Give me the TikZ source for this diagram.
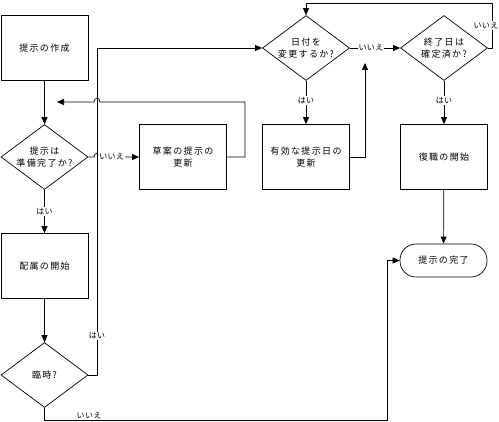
\documentclass[tikz,border=0pt]{standalone}
\usepackage{fontspec}
\newfontfamily\jpfont[LetterSpace=15]{Noto Sans CJK JP}
\newfontfamily\jplabel[LetterSpace=4]{Noto Sans CJK JP}
\usetikzlibrary{shapes.geometric,arrows.meta}

\begin{document}
\begin{tikzpicture}[x=1pt,y=-1pt]
    \tikzstyle{every node}=[font=\jpfont\fontsize{9}{12}\selectfont]
    \tikzstyle{proc}=[rectangle,draw,minimum width=87pt,minimum height=65pt,align=center,line width=0.7pt]
    \tikzstyle{decide}=[diamond,draw,aspect=1.34,minimum width=87pt,minimum height=65pt,inner sep=0pt,align=center,line width=0.7pt]
    \tikzstyle{term}=[rectangle,rounded corners=16pt,draw,minimum width=87pt,minimum height=33pt,line width=0.7pt]
    \tikzstyle{flow}=[-{Triangle[length=7pt,width=6pt]},line width=0.7pt]
    \tikzstyle{ans}=[fill=white,inner sep=1pt,font=\jplabel\fontsize{8}{10}\selectfont]
    \useasboundingbox (0,0) rectangle (499,422);
    \node[proc] (create) at (44.5,48) {提示の作成};
    \node[decide] (ready) at (44.5,157) {提示は\\準備完了か?};
    \node[proc] (draft) at (183,157) {草案の提示の\\更新};
    \node[proc] (assign) at (44.5,266) {配属の開始};
    \node[decide] (temp) at (44.5,375) {臨時?};
    \node[decide] (change) at (306,48) {日付を\\変更するか?};
    \node[proc] (valid) at (306,157) {有効な提示日の\\更新};
    \node[decide] (fixed) at (444,48) {終了日は\\確定済か?};
    \node[proc] (resume) at (444,157) {復職の開始};
    \node[term] (done) at (443.5,260.5) {提示の完了};
    \coordinate (back) at (57,102);
    \coordinate (up) at (365,63);
    \draw[flow] (create) -- (ready);
    \draw[flow] (ready.east) -- (94,157) .. controls (94,152) and (100,152) .. (100,157)
      -- node[ans,pos=0.3]{いいえ} (draft.west);
    \draw[flow] (draft.east) -- (245,157) -- (245,102) -- (100,102)
      .. controls (100,97) and (94,97) .. (94,102) -- (back);
    \draw[flow] (ready) -- node[ans]{はい} (assign);
    \draw[flow] (assign) -- (temp);
    \draw[flow] (temp.east) -- (97,375) -- node[ans,pos=0.12]{はい} (97,48) -- (change.west);
    \draw[flow] (temp.south) -- (44.5,420) -- node[ans,pos=0.13,above,fill=none]{いいえ} (387,420) -- (387,260.5) -- (done.west);
    \draw[flow] (change) -- node[ans,pos=0.45]{はい} (valid);
    \draw[flow] (valid.east) -- (365,157) -- (up);
    \draw[flow] (change.east) -- node[ans,pos=0.42]{いいえ} (fixed.west);
    \draw[flow] (fixed.east) -- (492,48) -- node[ans,xshift=-6pt]{いいえ} (492,3) -- (306,3) -- (change.north);
    \draw[flow] (fixed) -- node[ans,pos=0.45]{はい} (resume);
    \draw[flow] (resume) -- (done);
\end{tikzpicture}
\end{document}
